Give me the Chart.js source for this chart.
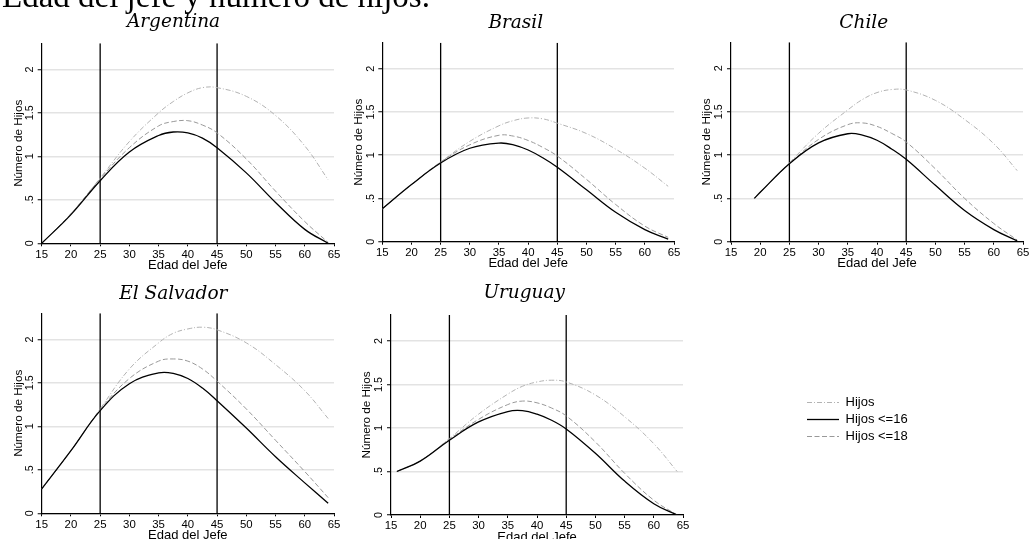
<!DOCTYPE html>
<html><head><meta charset="utf-8">
<script src="https://cdn.jsdelivr.net/npm/chart.js@4.4.1/dist/chart.umd.min.js"></script>
<style>
html,body{margin:0;padding:0;background:#fff;overflow:hidden;width:1029px;height:539px;}
#wrap{position:relative;width:1029px;height:539px;overflow:hidden;background:#fff;}
canvas{position:absolute;}
#mainTitle{position:absolute;left:2px;top:-20px;font-family:'Liberation Serif','Times New Roman',serif;font-size:33px;line-height:33px;white-space:nowrap;color:#000;z-index:5;}
</style></head><body><div id="wrap"><div id="mainTitle">Edad del jefe y número de hijos.</div></div>
<script>
// ---------------- DATA ----------------
const seriesLabels = ['Hijos', 'Hijos <=16', 'Hijos <=18'];
const xTicks = [15, 20, 25, 30, 35, 40, 45, 50, 55, 60, 65];
const yTicks = [0, 0.5, 1, 1.5, 2];
const yTickLabels = ['0', '.5', '1', '1.5', '2'];
const refAges = [25, 45];

const argAges    = [15, 20, 25, 30, 35, 37.5, 40, 42.5, 45, 50, 55, 60, 64];
const argHijos   = [0.00, 0.34, 0.75, 1.17, 1.50, 1.63, 1.73, 1.79, 1.79, 1.69, 1.47, 1.12, 0.73];
const argHijos16 = [0.00, 0.33, 0.72, 1.05, 1.24, 1.28, 1.27, 1.21, 1.10, 0.81, 0.47, 0.16, 0.00];
const argHijos18 = [0.00, 0.34, 0.74, 1.10, 1.35, 1.40, 1.41, 1.36, 1.27, 0.97, 0.60, 0.25, 0.01];

const braAges    = [15, 20, 25, 30, 35, 37.5, 40, 42.5, 45, 50, 55, 60, 64];
const braHijos   = [0.38, 0.66, 0.92, 1.16, 1.34, 1.40, 1.43, 1.42, 1.37, 1.25, 1.07, 0.85, 0.64];
const braHijos16 = [0.38, 0.66, 0.91, 1.08, 1.14, 1.12, 1.06, 0.97, 0.86, 0.60, 0.34, 0.14, 0.03];
const braHijos18 = [0.38, 0.66, 0.92, 1.12, 1.23, 1.22, 1.17, 1.09, 0.99, 0.72, 0.43, 0.18, 0.05];

const chiAges    = [19, 20, 25, 30, 35, 37.5, 40, 42.5, 45, 50, 55, 60, 64];
const chiHijos   = [0.50, 0.57, 0.91, 1.25, 1.52, 1.64, 1.72, 1.755, 1.75, 1.63, 1.41, 1.13, 0.82];
const chiHijos16 = [0.50, 0.57, 0.90, 1.14, 1.245, 1.23, 1.17, 1.07, 0.95, 0.65, 0.36, 0.14, 0.01];
const chiHijos18 = [0.50, 0.57, 0.90, 1.18, 1.35, 1.37, 1.33, 1.25, 1.15, 0.84, 0.50, 0.21, 0.02];

const salAges    = [15, 20, 25, 30, 35, 37.5, 40, 42.5, 45, 50, 55, 60, 64];
const salHijos   = [0.28, 0.72, 1.20, 1.66, 1.96, 2.07, 2.12, 2.14, 2.11, 1.96, 1.71, 1.41, 1.09];
const salHijos16 = [0.28, 0.72, 1.18, 1.49, 1.615, 1.61, 1.55, 1.44, 1.295, 0.98, 0.65, 0.35, 0.115];
const salHijos18 = [0.28, 0.72, 1.19, 1.55, 1.75, 1.775, 1.75, 1.66, 1.52, 1.20, 0.84, 0.48, 0.18];

const uruAges    = [16, 20, 25, 30, 35, 37.5, 40, 42.5, 45, 50, 55, 60, 64];
const uruHijos   = [0.50, 0.62, 0.88, 1.16, 1.39, 1.48, 1.53, 1.55, 1.53, 1.38, 1.13, 0.82, 0.50];
const uruHijos16 = [0.50, 0.62, 0.86, 1.07, 1.19, 1.20, 1.16, 1.09, 0.99, 0.71, 0.39, 0.13, 0.00];
const uruHijos18 = [0.50, 0.62, 0.87, 1.10, 1.27, 1.31, 1.29, 1.23, 1.14, 0.84, 0.48, 0.17, 0.00];

// ---------------- STYLE / LAYOUT ----------------
const X_MIN = 15, X_MAX = 65, Y_MIN = 0, Y_MAX = 2.3;
const styles = {
  hijos:   {borderColor:'#b3b3b3', borderDash:[5,2,1,2], borderWidth:1},
  h16:     {borderColor:'#000000', borderDash:[], borderWidth:1.3},
  h18:     {borderColor:'#999999', borderDash:[5,2.5], borderWidth:1}
};
const panels = [
  {name:'Argentina',   ages:argAges, hijos:argHijos, h16:argHijos16, h18:argHijos18,
   box:{L:41.7, R:334, T:43.3, B:243.3, tcx:173.5, tcy:22, ytc:18.3, top:0}},
  {name:'Brasil',      ages:braAges, hijos:braHijos, h16:braHijos16, h18:braHijos18,
   box:{L:382.3, R:674, T:42.7, B:241.7, tcx:515.8, tcy:23, ytc:358.3, top:0}},
  {name:'Chile',       ages:chiAges, hijos:chiHijos, h16:chiHijos16, h18:chiHijos18,
   box:{L:731, R:1023, T:42.3, B:241.7, tcx:863.8, tcy:23, ytc:706.7, top:0}},
  {name:'El Salvador', ages:salAges, hijos:salHijos, h16:salHijos16, h18:salHijos18,
   box:{L:41.7, R:334, T:313.3, B:513.3, tcx:173.3, tcy:294, ytc:18.3, top:270}},
  {name:'Uruguay',     ages:uruAges, hijos:uruHijos, h16:uruHijos16, h18:uruHijos18,
   box:{L:391, R:683, T:315, B:515, tcx:524.2, tcy:293, ytc:366.7, top:270}}
];

Chart.defaults.font.family = "'Liberation Sans', Arial, Helvetica, sans-serif";
Chart.defaults.color = '#000';

const wrap = document.getElementById('wrap');
const pts = (ages, vals) => ages.map((a, i) => ({x:a, y:vals[i]}));

function addCanvas(left, top, w, h){
  const c = document.createElement('canvas');
  c.width = w; c.height = h;
  c.style.left = left + 'px'; c.style.top = top + 'px';
  c.style.width = w + 'px'; c.style.height = h + 'px';
  wrap.appendChild(c);
  return c;
}

panels.forEach(p => {
  const b = p.box;
  const A = 2 * b.tcx - b.R;              // left edge of y-axis box
  const CL = Math.floor(A - 10);
  const padL = A - CL;
  const YW = b.L - A;
  const CT = b.top;
  const tSize = 18.5, tLH = tSize * 1.2;
  const pt = b.tcy - CT - tLH / 2;
  const pb = b.T - CT - tLH - pt;
  const XH = 30;
  const CW = Math.ceil(b.R + 8 - CL);
  const padR = CL + CW - b.R;
  const CH = Math.ceil(b.B + XH + 2 - CT);
  const padB = CT + CH - (b.B + XH);
  const ySize = 11.7;
  const yTitlePad = b.ytc - A - ySize / 2;

  const common = {pointRadius:0, pointHoverRadius:0, fill:false, tension:0.4};
  const datasets = [
    Object.assign({label:seriesLabels[1], data:pts(p.ages, p.h16)}, styles.h16, common),
    Object.assign({label:seriesLabels[2], data:pts(p.ages, p.h18)}, styles.h18, common),
    Object.assign({label:seriesLabels[0], data:pts(p.ages, p.hijos)}, styles.hijos, common)
  ];
  refAges.forEach(r => datasets.push({label:'ref' + r, data:[{x:r, y:Y_MIN}, {x:r, y:Y_MAX}],
    borderColor:'#000', borderWidth:1.3, pointRadius:0, tension:0, fill:false}));

  const cv = addCanvas(CL, CT, CW, CH);
  new Chart(cv, {
    type:'line',
    data:{datasets},
    options:{
      responsive:false, animation:false, events:[],
      layout:{padding:{left:padL, right:padR, top:0, bottom:padB}},
      plugins:{
        legend:{display:false}, tooltip:{enabled:false},
        title:{display:true, text:p.name, color:'#000',
          font:{family:"'DejaVu Serif', 'Liberation Serif', serif", style:'italic', weight:'normal', size:tSize, lineHeight:1.2},
          padding:{top:pt, bottom:pb}}
      },
      scales:{
        x:{type:'linear', min:X_MIN, max:X_MAX,
          afterBuildTicks:s => { s.ticks = xTicks.map(v => ({value:v})); },
          afterFit:s => { s.height = XH; s.paddingLeft = 0; s.paddingRight = 0; },
          ticks:{font:{size:11.4}, color:'#000', padding:1.5, maxRotation:0, autoSkip:false},
          grid:{drawOnChartArea:false, drawTicks:true, tickLength:3, tickColor:'#000', tickWidth:1},
          border:{display:true, color:'#000', width:1.2},
          title:{display:true, text:'Edad del Jefe', color:'#000', font:{size:13, lineHeight:1.2}, padding:{top:0, bottom:0}}
        },
        y:{type:'linear', min:Y_MIN, max:Y_MAX,
          afterBuildTicks:s => { s.ticks = yTicks.map(v => ({value:v})); },
          afterFit:s => { s.width = YW; s.paddingTop = 0; s.paddingBottom = 0; },
          ticks:{font:{size:10.8}, color:'#000', padding:0, minRotation:90, maxRotation:90, crossAlign:'center', autoSkip:false,
            callback:(v) => { const i = yTicks.indexOf(v); return i >= 0 ? yTickLabels[i] : ''; }},
          grid:{drawOnChartArea:true, color:'#e3e3e3', lineWidth:1.5, drawTicks:true, tickLength:4, tickColor:'#000', tickWidth:1},
          border:{display:true, color:'#000', width:1.2},
          title:{display:true, text:'Número de Hijos', color:'#000', font:{size:ySize, lineHeight:1}, padding:{top:yTitlePad, bottom:0}}
        }
      }
    }
  });
});

// ---------------- LEGEND ----------------
function lineSample(st){
  const c = document.createElement('canvas');
  c.width = 32; c.height = 3;
  const g = c.getContext('2d');
  g.strokeStyle = st.borderColor; g.lineWidth = st.borderWidth;
  g.setLineDash(st.borderDash);
  g.beginPath(); g.moveTo(0, 1.5); g.lineTo(32, 1.5); g.stroke();
  return c;
}
const legendStyles = [styles.hijos, styles.h16, styles.h18];
const lg = addCanvas(803, 392, 120, 130);
new Chart(lg, {
  type:'line',
  data:{datasets: legendStyles.map((st, i) => Object.assign({label:seriesLabels[i], data:[]}, st))},
  options:{
    responsive:false, animation:false, events:[],
    layout:{padding:0},
    scales:{x:{display:false}, y:{display:false}},
    plugins:{
      tooltip:{enabled:false},
      legend:{display:true, position:'top', align:'start', maxHeight:120,
        labels:{usePointStyle:true, pointStyleWidth:32, color:'#000', font:{size:13}, padding:4,
          generateLabels:(chart) => chart.data.datasets.map((d, i) => ({
            text:d.label, datasetIndex:i, hidden:false, fontColor:'#000',
            pointStyle:lineSample(legendStyles[i]), strokeStyle:d.borderColor,
            fillStyle:'rgba(0,0,0,0)', lineWidth:0
          }))}}
    }
  }
});
</script></body></html>
